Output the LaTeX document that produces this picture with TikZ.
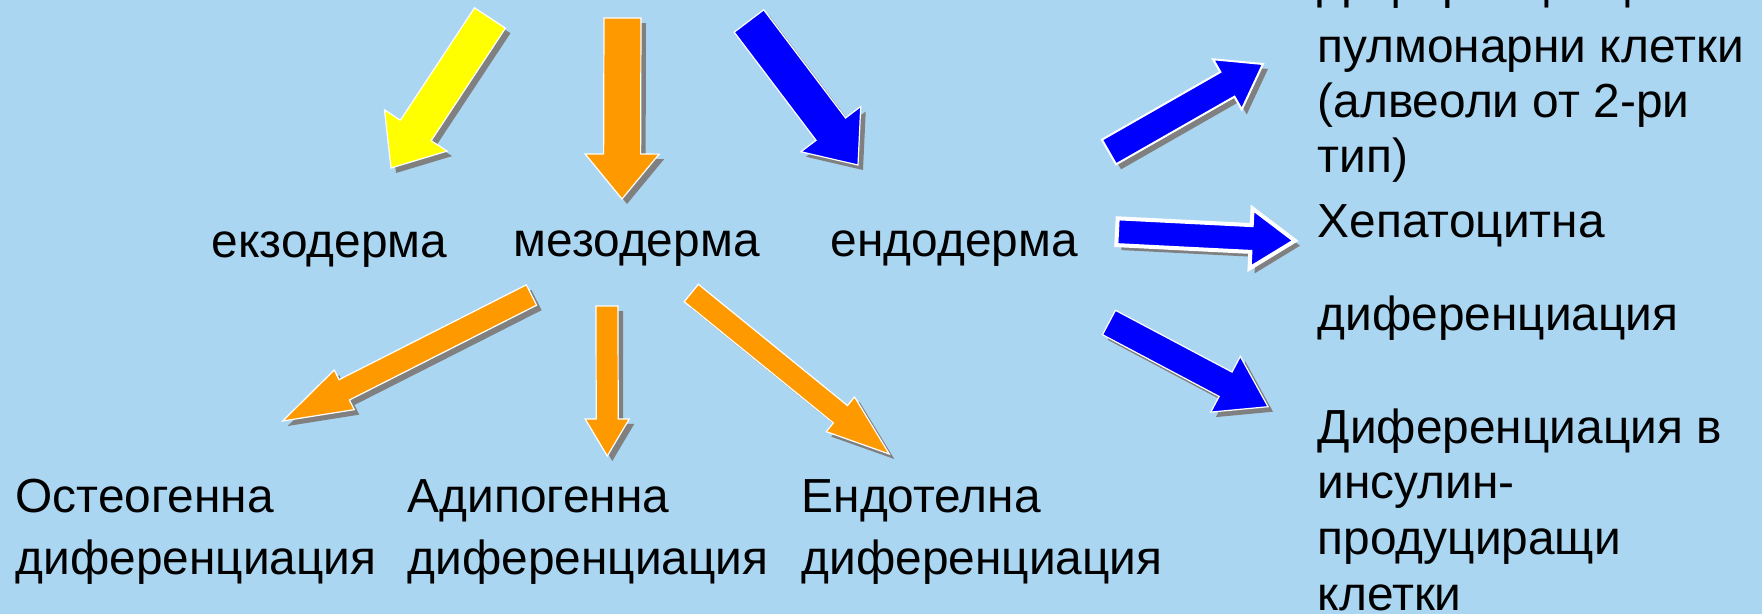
\documentclass[tikz,border=0pt]{standalone}
\usepackage{fontspec}
\setmainfont{Liberation Sans}
\usetikzlibrary{calc,shadows}
\definecolor{slidebg}{RGB}{171,214,241}
\definecolor{arrowyellow}{RGB}{255,255,0}
\definecolor{arroworange}{RGB}{255,153,0}
\definecolor{arrowblue}{RGB}{0,0,255}
\definecolor{arrowshadow}{RGB}{128,128,128}
\tikzset{
  blockarrow/.style={fill=#1, draw=white, line width=0.012cm,
    drop shadow={shadow xshift=0.05cm, shadow yshift=-0.05cm, opacity=1, fill=arrowshadow}},
  term/.style={anchor=base west, inner sep=0pt, align=left,
    font=\fontsize{13.6pt}{15.8pt}\selectfont},
}
% options, colour, tail, tip, shaft half width, head half width, head length (px)
\newcommand\blockarrow[7][]{%
  \coordinate (#3-neck) at ($(#4)!#7*0.01cm!(#3)$);
  \draw[blockarrow=#2,#1]
    ($(#3)!#5*0.01cm!90:(#4)$) -- ($(#3-neck)!#5*0.01cm!-90:(#3)$) --
    ($(#3-neck)!#6*0.01cm!-90:(#3)$) -- (#4) --
    ($(#3-neck)!#6*0.01cm!90:(#3)$) -- ($(#3-neck)!#5*0.01cm!90:(#3)$) --
    ($(#3)!#5*0.01cm!-90:(#4)$) -- cycle;
}
\begin{document}
\begin{tikzpicture}[x=0.01cm,y=-0.01cm]
  \useasboundingbox (0,0) rectangle (1762,614);
  \clip (0,0) rectangle (1762,614);
  \fill[slidebg] (0,0) rectangle (1762,614);

  \node[term] (ekto) at (211,257) {екзодерма};
  \node[term] (mezo) at (513,256) {мезодерма};
  \node[term] (endo) at (830,256) {ендодерма};

  % multi-line nodes: base is the last line
  \begin{scope}[every node/.style={term, font=\fontsize{13.6pt}{17.4pt}\selectfont}]
    \node (osteo) at (15,574) {Остеогенна\\диференциация};
    \node (adipo) at (407,574) {Адипогенна\\диференциация};
    \node (endot) at (801,574) {Ендотелна\\диференциация};
  \end{scope}

  \node[term, font=\fontsize{13.6pt}{15.5pt}\selectfont] (pulm) at (1317,172)
    {Диференциация в\\[0.1cm]пулмонарни клетки\\(алвеоли от 2-ри\\тип)};
  \node[term] (hepat) at (1317,330) {Хепатоцитна\\[0.365cm]диференциация};
  \node[term] (insul) at (1317,610) {Диференциация в\\инсулин-\\продуциращи\\клетки};

  \coordinate (y0) at (490,18);     \coordinate (y1) at (391,168);
  \coordinate (o0) at (622.5,18);   \coordinate (o1) at (622,199);
  \coordinate (b0) at (749,21);     \coordinate (b1) at (858,165);
  \coordinate (os0) at (531.5,295); \coordinate (os1) at (282.7,421);
  \coordinate (ad0) at (607,306);   \coordinate (ad1) at (607.3,456);
  \coordinate (et0) at (691.3,293); \coordinate (et1) at (889.3,454);
  \coordinate (pu0) at (1109,152);  \coordinate (pu1) at (1263,64);
  \coordinate (he0) at (1117,231.7);\coordinate (he1) at (1295,240.7);
  \coordinate (in0) at (1109,322.5);\coordinate (in1) at (1268,406.7);

  \blockarrow{arrowyellow}{y0}{y1}{18.5}{37.5}{45}
  \blockarrow{arroworange}{o0}{o1}{18.5}{37}{45}
  \blockarrow{arrowblue}{b0}{b1}{18.5}{37.5}{45}
  \blockarrow{arroworange}{os0}{os1}{11.4}{22.2}{69}
  \blockarrow{arroworange}{ad0}{ad1}{11}{22}{37}
  \blockarrow{arroworange}{et0}{et1}{11.2}{22.4}{63}
  \blockarrow[line width=0.02cm]{arrowblue}{pu0}{pu1}{14.2}{28.9}{41}
  \blockarrow[line width=0.04cm]{arrowblue}{he0}{he1}{13.4}{30}{44}
  \blockarrow{arrowblue}{in0}{in1}{13.8}{31.5}{48}
\end{tikzpicture}
\end{document}
